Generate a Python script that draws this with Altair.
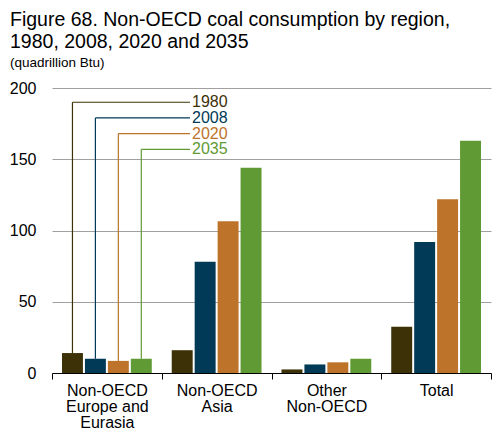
import altair as alt
import pandas as pd

regions = ["Non-OECD\nEurope and\nEurasia", "Non-OECD\nAsia", "Other\nNon-OECD", "Total"]
years = ["1980", "2008", "2020", "2035"]
v1980 = [14, 16, 2.5, 32.5]
v2008 = [10, 78, 6, 92]
v2020 = [8.5, 106.5, 7.5, 122]
v2035 = [10, 144, 10, 163]
leader_levels = [190, 179, 168, 157]
colors = ["#3d3108", "#003a56", "#bd732a", "#5f9a34"]

series = {"1980": v1980, "2008": v2008, "2020": v2020, "2035": v2035}
rows = []
for y in years:
    for r, v in zip(regions, series[y]):
        rows.append({"region": r, "year": y, "value": v})
df = pd.DataFrame(rows)

lead = pd.DataFrame({
    "region": [regions[0]] * 4,
    "year": years,
    "value": [series[y][0] for y in years],
    "level": leader_levels,
})

FONT = "Liberation Sans"

x_enc = alt.X(
    "region:N", sort=regions,
    scale=alt.Scale(paddingInner=0, paddingOuter=0),
    axis=alt.Axis(
        title=None, labelExpr="split(datum.label, '\\n')", labelAngle=0,
        labelFont=FONT, labelFontSize=16, labelColor="#000", labelLineHeight=16,
        labelPadding=3, tickBand="extent", ticks=True, tickSize=6, tickColor="#000",
        domainColor="#000", domainWidth=1, grid=False, labelBaseline="top",
    ),
)
xoff = alt.XOffset("year:N", sort=years,
                   scale=alt.Scale(paddingInner=0.087, paddingOuter=0.435))
y_enc = alt.Y(
    "value:Q", scale=alt.Scale(domain=[0, 200], nice=False),
    axis=alt.Axis(
        title=None, values=[0, 50, 100, 150, 200], domain=False, ticks=False,
        labelFont=FONT, labelFontSize=16, labelColor="#000", labelPadding=16,
        grid=True, gridColor="#a0a0a0", gridWidth=1,
    ),
)
c_enc = alt.Color("year:N", scale=alt.Scale(domain=years, range=colors), legend=None)

bars = alt.Chart(df).mark_bar().encode(x=x_enc, xOffset=xoff, y=y_enc, color=c_enc)

vert = alt.Chart(lead).mark_rule(strokeWidth=1.2).encode(
    x=x_enc, xOffset=xoff, y=y_enc, y2="level:Q", color=c_enc)
horiz = alt.Chart(lead).mark_rule(strokeWidth=1.2).encode(
    x=x_enc, xOffset=xoff, x2=alt.value(138), y=alt.Y("level:Q"), color=c_enc)
labels = alt.Chart(lead).mark_text(
    align="left", baseline="middle", font=FONT, fontSize=16).encode(
    x=alt.value(140), y=alt.Y("level:Q"), text="year:N", color=c_enc)

chart = alt.layer(vert, horiz, bars, labels).properties(
    width=439, height=285,
    autosize=alt.AutoSizeParams(type="none"),
    padding={"left": 44, "top": 80, "right": 5, "bottom": 58},
    title=alt.TitleParams(
        text=["Figure 68. Non-OECD coal consumption by region,", "1980, 2008, 2020 and 2035"],
        subtitle="(quadrillion Btu)",
        anchor="start", frame="group", dx=-42, offset=10,
        font=FONT, fontSize=19.5, fontWeight="normal", color="#000", lineHeight=22,
        subtitleFont=FONT, subtitleFontSize=13.5, subtitleColor="#000", subtitlePadding=3,
    ),
).configure_view(stroke=None)

chart.save("out.html", embed_options={"renderer": "svg", "actions": False})
